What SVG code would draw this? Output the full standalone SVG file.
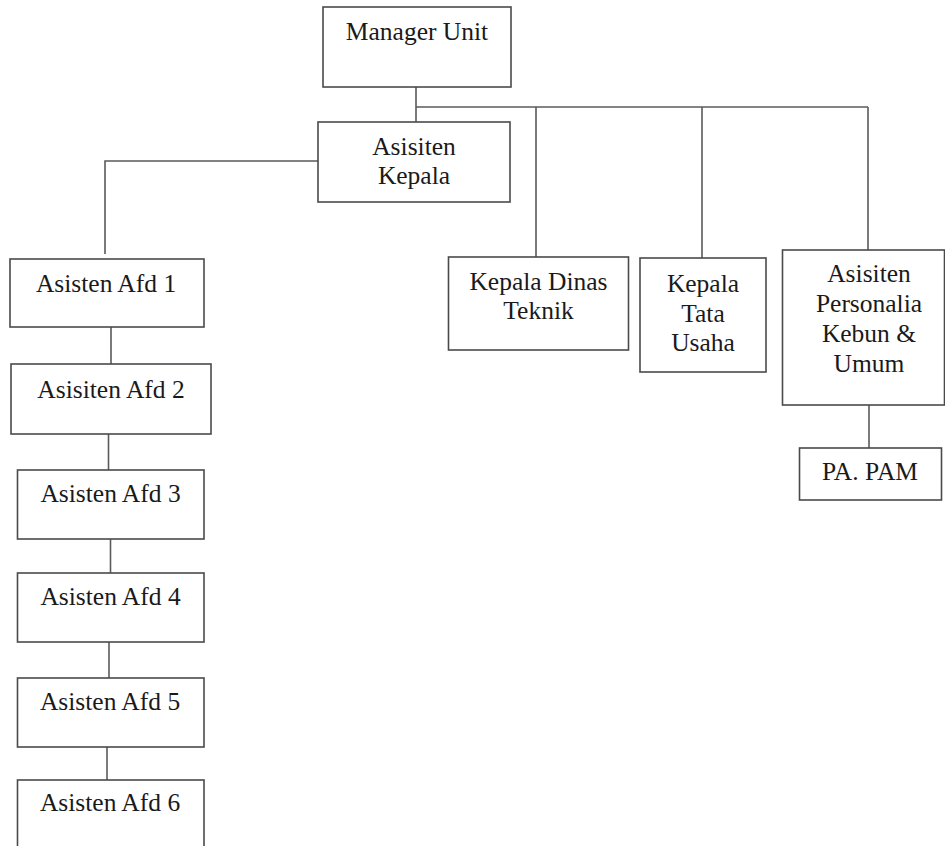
<svg xmlns="http://www.w3.org/2000/svg" width="945" height="846" viewBox="0 0 945 846">
<style>
.box{fill:#fff;stroke:#4a4a4a;stroke-width:1.6}
.lbl{font-family:"Liberation Serif","Times New Roman",serif;font-size:25.5px;fill:#1a1a1a;text-anchor:middle}
.con{stroke:#5a5a5a;stroke-width:1.6;fill:none}
</style>
<rect width="945" height="846" fill="#fff"/>
<g id="connectors">
<path class="con" d="M416,87V122"/>
<path class="con" d="M416,107H868"/>
<path class="con" d="M536,107V257"/>
<path class="con" d="M702,107V258"/>
<path class="con" d="M868,107V252"/>
<path class="con" d="M318,161H105V254"/>
<path class="con" d="M111,327V364"/>
<path class="con" d="M108.5,434V470"/>
<path class="con" d="M110.5,539V573"/>
<path class="con" d="M109,642V678"/>
<path class="con" d="M107,747V780"/>
<path class="con" d="M869,405V448"/>
</g>
<g id="manager-unit">
<rect class="box" x="323" y="7" width="188" height="80"/>
<text class="lbl" x="417" y="40">Manager Unit</text>
</g>
<g id="asisiten-kepala">
<rect class="box" x="318" y="122" width="192" height="80"/>
<text class="lbl" x="414" y="155">Asisiten</text>
<text class="lbl" x="414" y="184">Kepala</text>
</g>
<g id="asisten-afd-1">
<rect class="box" x="10" y="259" width="194" height="68"/>
<text class="lbl" x="106" y="292">Asisten Afd 1</text>
</g>
<g id="asisiten-afd-2">
<rect class="box" x="11" y="364" width="200" height="70"/>
<text class="lbl" x="111" y="398">Asisiten Afd 2</text>
</g>
<g id="asisten-afd-3">
<rect class="box" x="17.5" y="470" width="186.5" height="69"/>
<text class="lbl" x="110.5" y="502">Asisten Afd 3</text>
</g>
<g id="asisten-afd-4">
<rect class="box" x="17.5" y="573" width="186.5" height="69"/>
<text class="lbl" x="110.5" y="605">Asisten Afd 4</text>
</g>
<g id="asisten-afd-5">
<rect class="box" x="17.5" y="678" width="186.5" height="69"/>
<text class="lbl" x="110" y="710">Asisten Afd 5</text>
</g>
<g id="asisten-afd-6">
<rect class="box" x="17.5" y="780" width="186.5" height="90"/>
<text class="lbl" x="110" y="811">Asisten Afd 6</text>
</g>
<g id="kepala-dinas-teknik">
<rect class="box" x="448.5" y="257" width="180" height="93"/>
<text class="lbl" x="538.5" y="290">Kepala Dinas</text>
<text class="lbl" x="538.5" y="318.5">Teknik</text>
</g>
<g id="kepala-tata-usaha">
<rect class="box" x="640" y="258" width="126" height="114"/>
<text class="lbl" x="703" y="292">Kepala</text>
<text class="lbl" x="703" y="321.5">Tata</text>
<text class="lbl" x="703" y="351">Usaha</text>
</g>
<g id="asisiten-personalia">
<rect class="box" x="782.5" y="250" width="162" height="155"/>
<text class="lbl" x="869" y="282">Asisiten</text>
<text class="lbl" x="869" y="312">Personalia</text>
<text class="lbl" x="869" y="342">Kebun &amp;</text>
<text class="lbl" x="869" y="372">Umum</text>
</g>
<g id="pa-pam">
<rect class="box" x="799.5" y="448" width="142" height="52"/>
<text class="lbl" x="870" y="480">PA. PAM</text>
</g>
</svg>
